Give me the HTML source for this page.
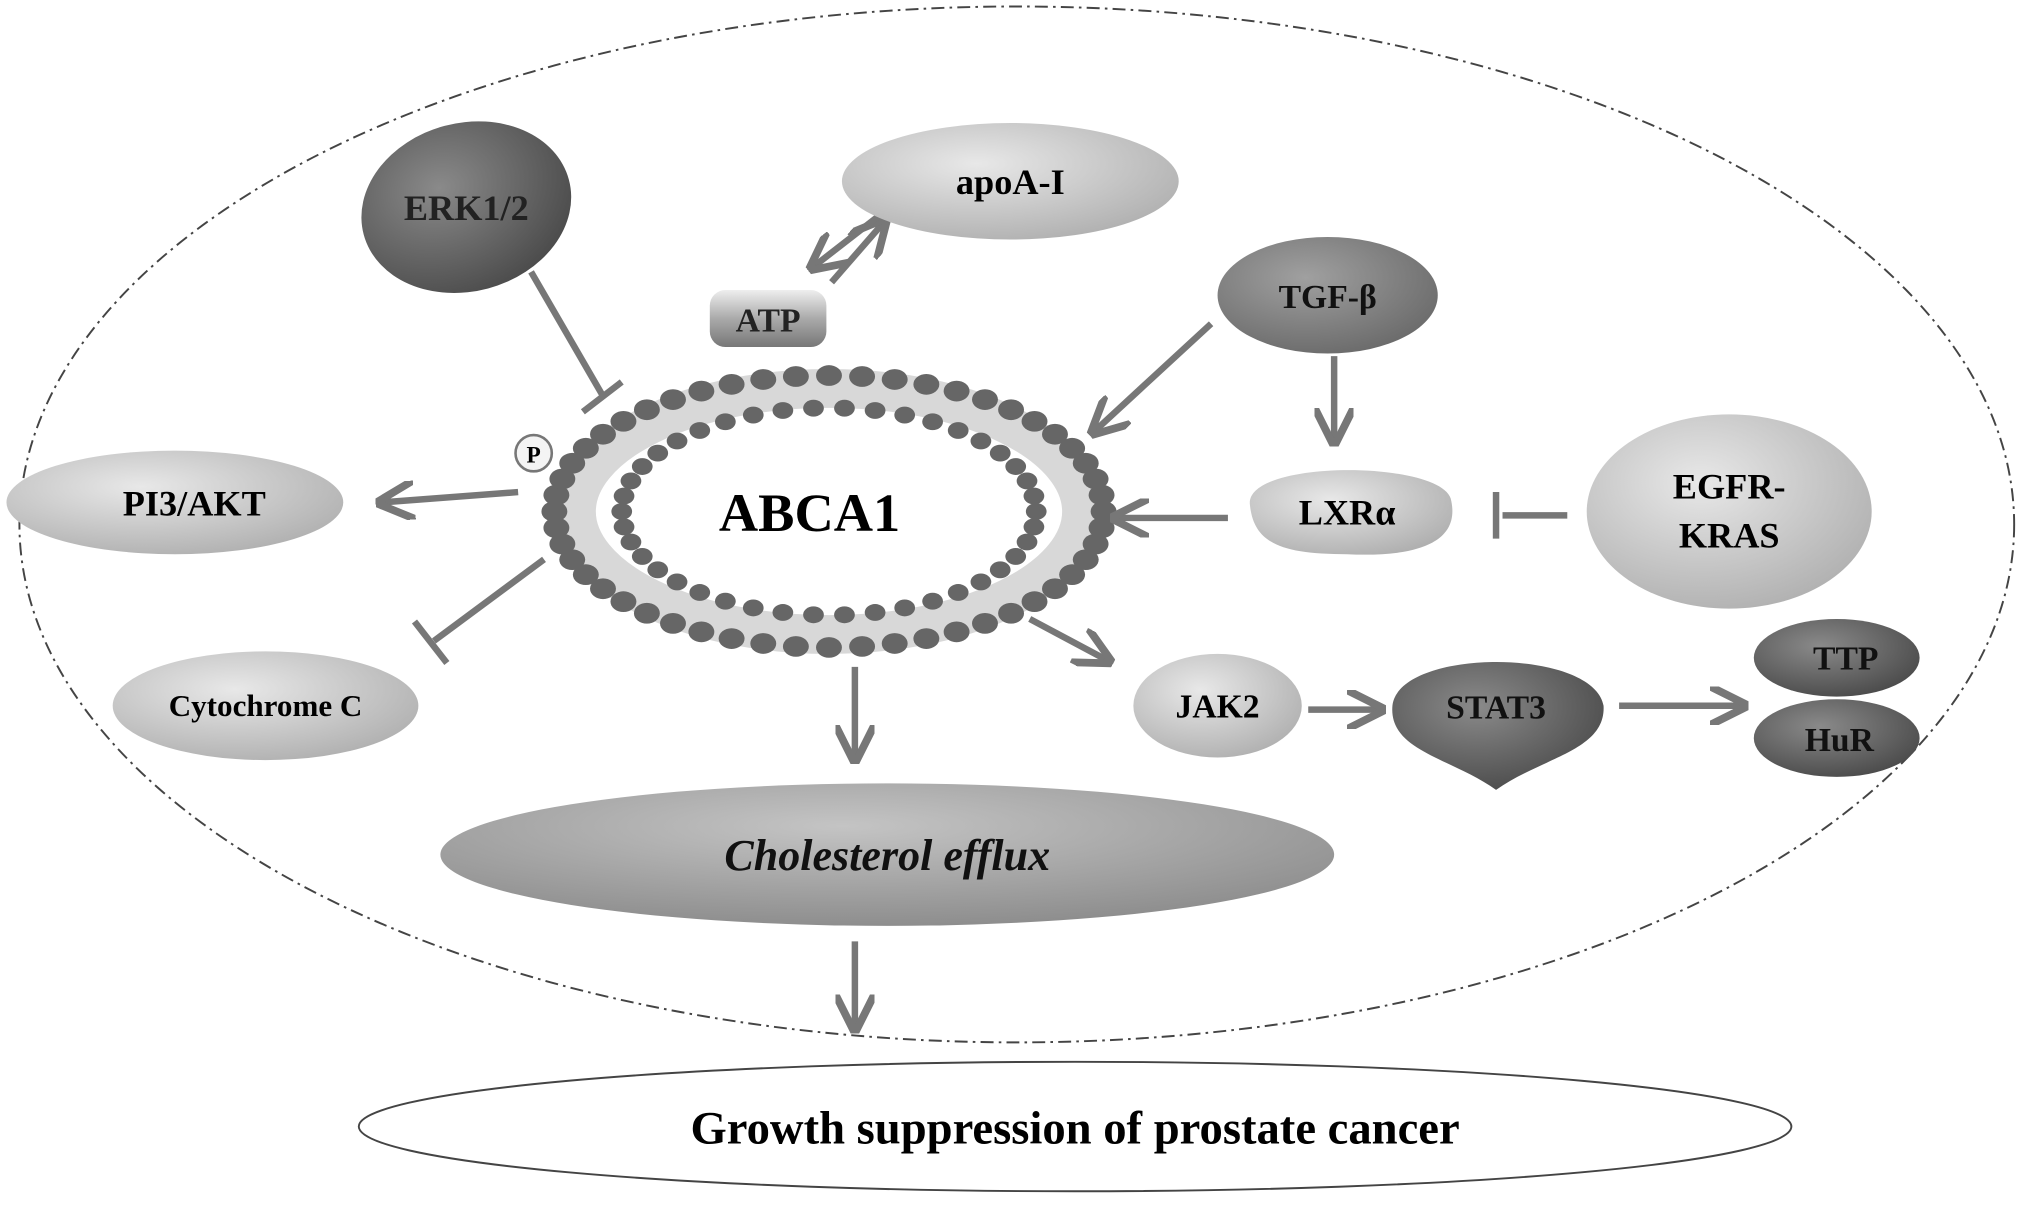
<!DOCTYPE html>
<html><head><meta charset="utf-8"><style>
html,body{margin:0;padding:0;background:#fff;}
svg{display:block;}
text{font-family:"Liberation Serif",serif;font-weight:bold;}
</style></head><body>
<svg width="2031" height="1212" viewBox="0 0 1568 936" preserveAspectRatio="none" xmlns="http://www.w3.org/2000/svg">
<defs>
<radialGradient id="gl" cx="40%" cy="35%" r="70%"><stop offset="0" stop-color="#e8e8e8"/><stop offset="1" stop-color="#b0b0b0"/></radialGradient>
<radialGradient id="gm" cx="40%" cy="35%" r="70%"><stop offset="0" stop-color="#a0a0a0"/><stop offset="1" stop-color="#6a6a6a"/></radialGradient>
<radialGradient id="gc" cx="45%" cy="30%" r="70%"><stop offset="0" stop-color="#c4c4c4"/><stop offset="1" stop-color="#8e8e8e"/></radialGradient>
<radialGradient id="gd" cx="40%" cy="35%" r="70%"><stop offset="0" stop-color="#8a8a8a"/><stop offset="1" stop-color="#4a4a4a"/></radialGradient>
<linearGradient id="gatp" x1="0" y1="0" x2="0" y2="1"><stop offset="0" stop-color="#eee"/><stop offset="0.5" stop-color="#aaa"/><stop offset="1" stop-color="#777"/></linearGradient>
<marker id="ah" markerWidth="6" markerHeight="6" refX="5" refY="3" orient="auto" markerUnits="strokeWidth"><path d="M0,0 L6,3 L0,6" fill="none" stroke="#777" stroke-width="1.2"/></marker>
</defs>
<ellipse cx="785" cy="405" rx="770" ry="400" fill="none" stroke="#444" stroke-width="1.5" stroke-dasharray="10,4,2,4"/>
<ellipse cx="830" cy="870" rx="553" ry="50" fill="#fff" stroke="#444" stroke-width="1.5"/>
<text x="830" y="883" font-size="36" text-anchor="middle">Growth suppression of prostate cancer</text>

<ellipse cx="640" cy="395" rx="195" ry="95" fill="none" stroke="#d8d8d8" stroke-width="30"/>
<g id="dots"></g>
<ellipse cx="640" cy="395" rx="140" ry="62" fill="#fff"/>
<text x="625" y="410" font-size="42" text-anchor="middle">ABCA1</text>

<g stroke="#777" stroke-width="5" fill="none">
<line x1="410" y1="210" x2="465" y2="305"/><line x1="450" y1="318" x2="480" y2="295"/>
<line x1="642" y1="218" x2="682" y2="172" marker-end="url(#ah)"/>
<line x1="700" y1="150" x2="628" y2="206" marker-end="url(#ah)"/>
<line x1="935" y1="250" x2="845" y2="333" marker-end="url(#ah)"/>
<line x1="1030" y1="275" x2="1030" y2="340" marker-end="url(#ah)"/>
<line x1="948" y1="400" x2="862" y2="400" marker-end="url(#ah)"/>
<line x1="1210" y1="398" x2="1160" y2="398"/><line x1="1155" y1="380" x2="1155" y2="416"/>
<line x1="400" y1="380" x2="295" y2="388" marker-end="url(#ah)"/>
<line x1="420" y1="432" x2="335" y2="495"/><line x1="320" y1="480" x2="345" y2="512"/>
<line x1="795" y1="478" x2="855" y2="510" marker-end="url(#ah)"/>
<line x1="660" y1="515" x2="660" y2="585" marker-end="url(#ah)"/>
<line x1="1010" y1="548" x2="1065" y2="548" marker-end="url(#ah)"/>
<line x1="1250" y1="545" x2="1345" y2="545" marker-end="url(#ah)"/>
<line x1="660" y1="727" x2="660" y2="793" marker-end="url(#ah)"/>
</g>

<ellipse cx="360" cy="160" rx="82" ry="65" fill="url(#gd)" transform="rotate(-15 360 160)"/>
<text x="360" y="170" font-size="28" text-anchor="middle" fill="#222">ERK1/2</text>
<ellipse cx="780" cy="140" rx="130" ry="45" fill="url(#gl)"/>
<text x="780" y="150" font-size="28" text-anchor="middle">apoA-I</text>
<rect x="548" y="224" width="90" height="44" rx="12" fill="url(#gatp)"/>
<text x="593" y="256" font-size="26" text-anchor="middle" font-family="Liberation Sans" fill="#222">ATP</text>
<ellipse cx="1025" cy="228" rx="85" ry="45" fill="url(#gm)"/>
<text x="1025" y="238" font-size="26" text-anchor="middle" fill="#111">TGF-β</text>
<path d="M965,390 C960,355 1110,355 1120,385 C1130,425 1080,430 1040,428 C990,428 968,420 965,390Z" fill="url(#gl)"/>
<text x="1040" y="405" font-size="28" text-anchor="middle">LXRα</text>
<ellipse cx="1335" cy="395" rx="110" ry="75" fill="url(#gl)"/>
<text x="1335" y="385" font-size="28" text-anchor="middle">EGFR-</text>
<text x="1335" y="423" font-size="28" text-anchor="middle">KRAS</text>
<circle cx="412" cy="350" r="14" fill="#f4f4f4" stroke="#777" stroke-width="2"/>
<text x="412" y="357" font-size="18" text-anchor="middle" font-family="Liberation Sans">P</text>
<ellipse cx="135" cy="388" rx="130" ry="40" fill="url(#gl)"/>
<text x="150" y="398" font-size="28" text-anchor="middle">PI3/AKT</text>
<ellipse cx="205" cy="545" rx="118" ry="42" fill="url(#gl)"/>
<text x="205" y="553" font-size="24" text-anchor="middle">Cytochrome C</text>
<ellipse cx="940" cy="545" rx="65" ry="40" fill="url(#gl)"/>
<text x="940" y="554" font-size="26" text-anchor="middle">JAK2</text>
<path d="M1075,545 C1080,500 1230,500 1238,545 C1240,580 1190,585 1155,610 C1120,585 1072,580 1075,545Z" fill="url(#gd)"/>
<text x="1155" y="555" font-size="26" text-anchor="middle" fill="#111">STAT3</text>
<ellipse cx="1418" cy="508" rx="64" ry="30" fill="url(#gd)"/>
<text x="1425" y="517" font-size="26" text-anchor="middle" fill="#111">TTP</text>
<ellipse cx="1418" cy="570" rx="64" ry="30" fill="url(#gd)"/>
<text x="1420" y="580" font-size="26" text-anchor="middle" fill="#111">HuR</text>
<ellipse cx="685" cy="660" rx="345" ry="55" fill="url(#gc)"/>
<text x="685" y="672" font-size="34" text-anchor="middle" font-style="italic" fill="#111">Cholesterol efflux</text>
</svg>
<script>
var g=document.getElementById('dots'),h='';
for(var i=0;i<52;i++){var a=i/52*2*Math.PI;
h+='<ellipse cx="'+(640+212*Math.cos(a))+'" cy="'+(395+105*Math.sin(a))+'" rx="10" ry="8" fill="#666"/>';}
for(var i=0;i<42;i++){var a=i/42*2*Math.PI;
h+='<ellipse cx="'+(640+160*Math.cos(a))+'" cy="'+(395+80*Math.sin(a))+'" rx="8" ry="6.5" fill="#666"/>';}
g.innerHTML=h;
</script>
</body></html>
